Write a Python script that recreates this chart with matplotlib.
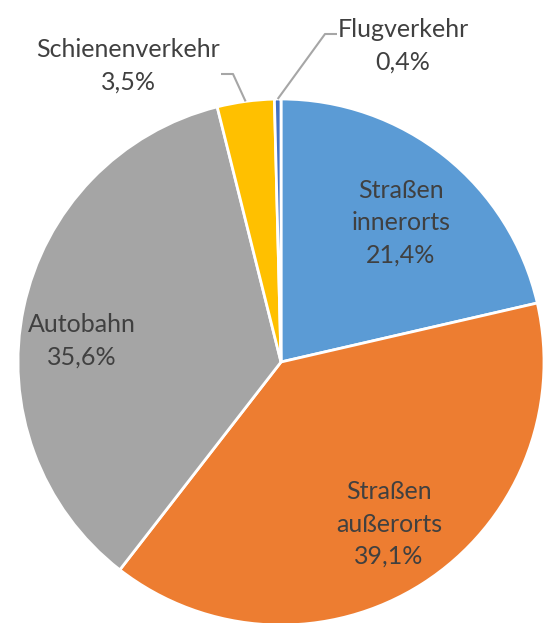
import numpy as np
import matplotlib
matplotlib.use("Agg")
import matplotlib.pyplot as plt

# Verkehrsanteile
categories = ["Straßen\ninnerorts", "Straßen\naußerorts", "Autobahn", "Schienenverkehr", "Flugverkehr"]
values = [21.4, 39.1, 35.6, 3.5, 0.4]
colors = ["#5B9BD5", "#ED7D31", "#A5A5A5", "#FFC000", "#4472C4"]
value_labels = ["21,4%", "39,1%", "35,6%", "3,5%", "0,4%"]

W, H = 544, 623
cx, cy, r = 281, H - 362, 263

# label centre positions (image pixels, y from top)
label_pos = [(401, 223), (389, 524), (82, 341), (128, 66), (403, 46)]

plt.rcParams['font.family'] = ['Lato', 'DejaVu Sans']

fig = plt.figure(figsize=(W / 100, H / 100), dpi=100)
ax = fig.add_axes([0, 0, 1, 1])
wedges, _ = ax.pie(values, colors=colors, startangle=90, counterclock=False,
                   center=(cx, cy), radius=r,
                   wedgeprops=dict(edgecolor="white", linewidth=2.0))
ax.set_xlim(0, W)
ax.set_ylim(0, H)
ax.set_aspect("equal")
ax.axis("off")

text_color = "#404040"
for i, (cat, lab) in enumerate(zip(categories, value_labels)):
    x, y = label_pos[i]
    ax.text(x, H - y, cat + "\n" + lab, ha="center", va="center",
            fontsize=18, color=text_color, linespacing=1.5)

# leader lines for the two small slices
line_color = "#A6A6A6"
leaders = {3: (221, 233, 74), 4: (337, 325, 34)}
for i, (x0, x1, yl) in leaders.items():
    w = wedges[i]
    mid = np.deg2rad((w.theta1 + w.theta2) / 2)
    ex = cx + r * np.cos(mid)
    ey = cy + r * np.sin(mid)
    ax.plot([x0, x1, ex], [H - yl, H - yl, ey], color=line_color, lw=1.5,
            solid_capstyle="butt")

fig.savefig("out.png", dpi=100)
